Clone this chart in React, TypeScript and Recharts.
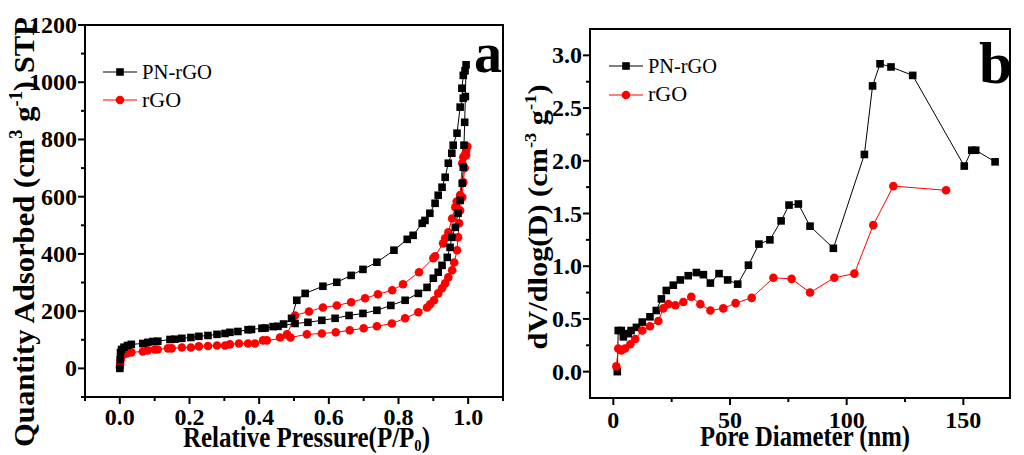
import React from "react";
import { LineChart, Line, XAxis, YAxis, ReferenceArea } from "recharts";

const FONT = "'Liberation Serif', 'Times New Roman', serif";

// ---- panel a: N2 isotherms (adsorption branch, then desorption branch back) ----
const pnAdsP = [0.0, 0.001, 0.002, 0.005, 0.012, 0.022, 0.033, 0.066, 0.08, 0.095, 0.109, 0.144, 0.158, 0.178, 0.204, 0.227, 0.253, 0.279, 0.302, 0.316, 0.339, 0.368, 0.378, 0.408, 0.417, 0.454, 0.503, 0.54, 0.58, 0.618, 0.658, 0.698, 0.738, 0.778, 0.819, 0.857, 0.882, 0.9, 0.914, 0.925, 0.94, 0.948, 0.953, 0.963, 0.971, 0.977, 0.983, 0.986, 0.988, 0.99, 0.992, 0.994];
const pnAdsV = [0, 30, 55, 66, 74, 80, 84, 87, 91, 94, 95, 101, 102, 105, 108, 112, 115, 119, 122, 126, 129, 135, 136, 140, 141, 147, 157, 161, 168, 175, 185, 192, 203, 220, 238, 262, 283, 315, 336, 360, 388, 423, 458, 493, 542, 587, 647, 703, 780, 860, 950, 1061];
const pnDesP = [0.991, 0.986, 0.982, 0.986, 0.977, 0.968, 0.957, 0.953, 0.943, 0.934, 0.925, 0.914, 0.905, 0.89, 0.876, 0.868, 0.842, 0.825, 0.787, 0.738, 0.698, 0.664, 0.623, 0.583, 0.532, 0.508, 0.493, 0.47, 0.44];
const pnDesV = [1040, 1024, 979, 944, 913, 822, 780, 752, 717, 668, 633, 605, 577, 542, 517, 507, 465, 451, 413, 371, 346, 325, 301, 287, 262, 238, 175, 155, 146];

const rgoAdsP = [0.0, 0.001, 0.002, 0.004, 0.01, 0.02, 0.033, 0.066, 0.08, 0.1, 0.109, 0.138, 0.149, 0.178, 0.204, 0.227, 0.253, 0.279, 0.302, 0.316, 0.342, 0.368, 0.388, 0.411, 0.422, 0.49, 0.537, 0.58, 0.62, 0.66, 0.7, 0.738, 0.781, 0.819, 0.857, 0.882, 0.891, 0.902, 0.914, 0.925, 0.934, 0.943, 0.954, 0.96, 0.968, 0.971, 0.974, 0.977, 0.983, 0.986, 0.99, 0.994, 0.997];
const rgoAdsV = [3, 15, 28, 40, 49, 52, 56, 59, 63, 66, 66, 70, 70, 73, 73, 77, 78, 80, 80, 84, 87, 87, 87, 98, 98, 108, 119, 122, 126, 133, 140, 147, 157, 175, 196, 213, 224, 238, 262, 280, 297, 318, 343, 370, 413, 458, 507, 552, 598, 650, 700, 745, 775];
const rgoDesP = [0.997, 0.994, 0.99, 0.986, 0.983, 0.977, 0.967, 0.963, 0.954, 0.943, 0.934, 0.928, 0.905, 0.9, 0.859, 0.813, 0.782, 0.741, 0.704, 0.664, 0.623, 0.583, 0.543, 0.503, 0.48, 0.46];
const rgoDesV = [775, 760, 745, 738, 717, 606, 583, 563, 524, 476, 455, 437, 392, 385, 336, 294, 273, 259, 245, 231, 220, 213, 199, 185, 119, 108];

const aXTicks = [-0.1, 0, 0.1, 0.2, 0.3, 0.4, 0.5, 0.6, 0.7, 0.8, 0.9, 1.0, 1.1];
const aYTicks = [-100, 0, 100, 200, 300, 400, 500, 600, 700, 800, 900, 1000, 1100, 1200];

// ---- panel b: pore size distribution ----
const pnD = [1.7, 2.1, 3.4, 4.3, 6.4, 7.6, 9.9, 12.4, 15.7, 18.4, 20.6, 22.7, 25.7, 28.7, 32.1, 35.6, 38.6, 41.6, 45.3, 49.0, 53.3, 57.9, 62.4, 67.1, 71.9, 75.3, 79.3, 84.3, 94.3, 107.6, 111.1, 114.3, 119.0, 128.3, 150.4, 153.6, 155.3, 163.6];
const pnDV = [0.0, 0.39, 0.39, 0.33, 0.36, 0.39, 0.42, 0.47, 0.52, 0.58, 0.69, 0.77, 0.82, 0.87, 0.91, 0.94, 0.92, 0.84, 0.93, 0.87, 0.83, 1.01, 1.21, 1.25, 1.43, 1.58, 1.59, 1.38, 1.17, 2.06, 2.71, 2.92, 2.89, 2.81, 1.95, 2.1, 2.1, 1.99];
const rgoD = [1.3, 2.1, 3.4, 5.0, 7.3, 9.4, 12.4, 15.7, 19.3, 21.4, 23.6, 26.6, 30.0, 33.4, 37.3, 41.6, 47.1, 52.4, 59.3, 68.6, 76.4, 84.3, 94.7, 103.3, 111.4, 120.0, 142.6];
const rgoDV = [0.05, 0.22, 0.2, 0.22, 0.26, 0.31, 0.39, 0.43, 0.48, 0.6, 0.64, 0.63, 0.66, 0.71, 0.64, 0.58, 0.6, 0.65, 0.7, 0.89, 0.88, 0.75, 0.89, 0.93, 1.39, 1.76, 1.72];

const bXTicks = [0, 25, 50, 75, 100, 125, 150];
const bYTicks = [0, 0.25, 0.5, 0.75, 1.0, 1.25, 1.5, 1.75, 2.0, 2.25, 2.5, 2.75, 3.0];

const zip = (xs: number[], ys: number[]) => xs.map((x, i) => ({ x, y: ys[i] }));

const pnLoop = zip([...pnAdsP, ...pnDesP], [...pnAdsV, ...pnDesV]);
const rgoLoop = zip([...rgoAdsP, ...rgoDesP], [...rgoAdsV, ...rgoDesV]);
const pnPsd = zip(pnD, pnDV);
const rgoPsd = zip(rgoD, rgoDV);

const SQ = 7.6;
const Square = (props: any) => {
  const { cx, cy } = props;
  if (cx == null || cy == null) return null;
  return <rect x={cx - SQ / 2} y={cy - SQ / 2} width={SQ} height={SQ} fill="#000" />;
};
const redDot = { r: 4.3, fill: "#ff0000", stroke: "#ff0000", strokeWidth: 0 };

const XTick = (props: any) => {
  const { x, y, payload, isMajor, fmt, gap } = props;
  const v = payload.value;
  const major = isMajor(v);
  return (
    <g>
      <line x1={x} y1={y} x2={x} y2={y + (major ? 7 : 4)} stroke="#000" strokeWidth={2} />
      {major && (
        <text x={x} y={y + gap} textAnchor="middle" fontFamily={FONT} fontWeight="bold" fontSize={24} fill="#000">
          {fmt(v)}
        </text>
      )}
    </g>
  );
};

const YTick = (props: any) => {
  const { x, y, payload, isMajor, fmt } = props;
  const v = payload.value;
  const major = isMajor(v);
  return (
    <g>
      <line x1={x} y1={y} x2={x - (major ? 7 : 4)} y2={y} stroke="#000" strokeWidth={2} />
      {major && (
        <text x={x - 8} y={y + 8} textAnchor="end" fontFamily={FONT} fontWeight="bold" fontSize={24} fill="#000">
          {fmt(v)}
        </text>
      )}
    </g>
  );
};

const aXMajor = (v: number) => Math.round(v * 10) % 2 === 0;
const aYMajor = (v: number) => v % 200 === 0;
const bXMajor = (v: number) => v % 50 === 0;
const bYMajor = (v: number) => Math.round(v * 100) % 50 === 0;

export default function App() {
  return (
    <div style={{ position: "absolute", left: 0, top: 0, width: 1024, height: 455, background: "#fff", overflow: "hidden" }}>
      <div style={{ position: "absolute", left: 0, top: 0 }}>
        <LineChart width={520} height={455} margin={{ top: 25, right: 17, bottom: 0, left: 0 }}>
          <XAxis
            type="number"
            dataKey="x"
            domain={[-0.1, 1.1]}
            allowDataOverflow
            ticks={aXTicks}
            interval={0}
            height={58}
            tickSize={0}
            tickMargin={0}
            tickLine={false}
            axisLine={{ stroke: "#000", strokeWidth: 2 }}
            tick={<XTick isMajor={aXMajor} fmt={(v: number) => v.toFixed(1)} gap={28} />}
          />
          <YAxis
            type="number"
            dataKey="y"
            domain={[-100, 1200]}
            allowDataOverflow
            ticks={aYTicks}
            interval={0}
            width={85}
            tickSize={0}
            tickMargin={0}
            tickLine={false}
            axisLine={{ stroke: "#000", strokeWidth: 2 }}
            tick={<YTick isMajor={aYMajor} fmt={(v: number) => String(v)} />}
          />
          <ReferenceArea x1={-0.1} x2={1.1} y1={-100} y2={1200} fill="none" stroke="#000" strokeWidth={2} />
          <Line data={rgoLoop} dataKey="y" stroke="#ff0000" strokeWidth={1} dot={redDot} isAnimationActive={false} />
          <Line data={pnLoop} dataKey="y" stroke="#000" strokeWidth={1} dot={<Square />} isAnimationActive={false} />
        </LineChart>
      </div>

      <div style={{ position: "absolute", left: 520, top: 0 }}>
        <LineChart width={504} height={455} margin={{ top: 29, right: 14, bottom: 0, left: 0 }}>
          <XAxis
            type="number"
            dataKey="x"
            domain={[-10, 170]}
            allowDataOverflow
            ticks={bXTicks}
            interval={0}
            height={57}
            tickSize={0}
            tickMargin={0}
            tickLine={false}
            axisLine={{ stroke: "#000", strokeWidth: 2 }}
            tick={<XTick isMajor={bXMajor} fmt={(v: number) => String(v)} gap={30} />}
          />
          <YAxis
            type="number"
            dataKey="y"
            domain={[-0.25, 3.25]}
            allowDataOverflow
            ticks={bYTicks}
            interval={0}
            width={70}
            tickSize={0}
            tickMargin={0}
            tickLine={false}
            axisLine={{ stroke: "#000", strokeWidth: 2 }}
            tick={<YTick isMajor={bYMajor} fmt={(v: number) => v.toFixed(1)} />}
          />
          <ReferenceArea x1={-10} x2={170} y1={-0.25} y2={3.25} fill="none" stroke="#000" strokeWidth={2} />
          <Line data={pnPsd} dataKey="y" stroke="#000" strokeWidth={1} dot={<Square />} isAnimationActive={false} />
          <Line data={rgoPsd} dataKey="y" stroke="#ff0000" strokeWidth={1} dot={redDot} isAnimationActive={false} />
        </LineChart>
      </div>

      <svg width={1024} height={455} style={{ position: "absolute", left: 0, top: 0, pointerEvents: "none" }} fontFamily={FONT}>
        {/* panel a labels */}
        <text transform="translate(34,232) rotate(-90)" textAnchor="middle" fontWeight="bold" fontSize={30} textLength={430} lengthAdjust="spacingAndGlyphs">
          Quantity Adsorbed (cm<tspan fontSize={18} dy={-12}>3</tspan><tspan dy={12}> g</tspan><tspan fontSize={18} dy={-12}>-1</tspan><tspan dy={12}>) STP</tspan>
        </text>
        <text x={183} y={447} fontWeight="bold" fontSize={29} textLength={247} lengthAdjust="spacingAndGlyphs">
          Relative Pressure(P/P<tspan fontSize={17} dy={4}>0</tspan><tspan dy={-4}>)</tspan>
        </text>
        <text x={474} y={72} fontWeight="bold" fontSize={56}>a</text>
        <line x1={103} y1={72} x2={137} y2={72} stroke="#000" strokeWidth={1} />
        <rect x={120 - SQ / 2} y={72 - SQ / 2} width={SQ} height={SQ} fill="#000" />
        <text x={142} y={79} fontSize={22} textLength={70} lengthAdjust="spacingAndGlyphs">PN-rGO</text>
        <line x1={103} y1={100} x2={137} y2={100} stroke="#ff0000" strokeWidth={1} />
        <circle cx={120} cy={100} r={4.3} fill="#ff0000" />
        <text x={142} y={107} fontSize={22}>rGO</text>

        {/* panel b labels */}
        <text transform="translate(547,217) rotate(-90)" textAnchor="middle" fontWeight="bold" fontSize={28} textLength={265} lengthAdjust="spacingAndGlyphs">
          dV/dlog(D) (cm<tspan fontSize={17} dy={-11}>-3</tspan><tspan dy={11}> g</tspan><tspan fontSize={17} dy={-11}>-1</tspan><tspan dy={11}>)</tspan>
        </text>
        <text x={700} y={446} fontWeight="bold" fontSize={29} textLength={210} lengthAdjust="spacingAndGlyphs">
          Pore Diameter (nm)
        </text>
        <text x={979} y={83} fontWeight="bold" fontSize={60}>b</text>
        <line x1={609} y1={66} x2={643} y2={66} stroke="#000" strokeWidth={1} />
        <rect x={626 - SQ / 2} y={66 - SQ / 2} width={SQ} height={SQ} fill="#000" />
        <text x={648} y={73} fontSize={22} textLength={69} lengthAdjust="spacingAndGlyphs">PN-rGO</text>
        <line x1={609} y1={95} x2={643} y2={95} stroke="#ff0000" strokeWidth={1} />
        <circle cx={626} cy={95} r={4.3} fill="#ff0000" />
        <text x={648} y={101} fontSize={22}>rGO</text>
      </svg>
    </div>
  );
}
